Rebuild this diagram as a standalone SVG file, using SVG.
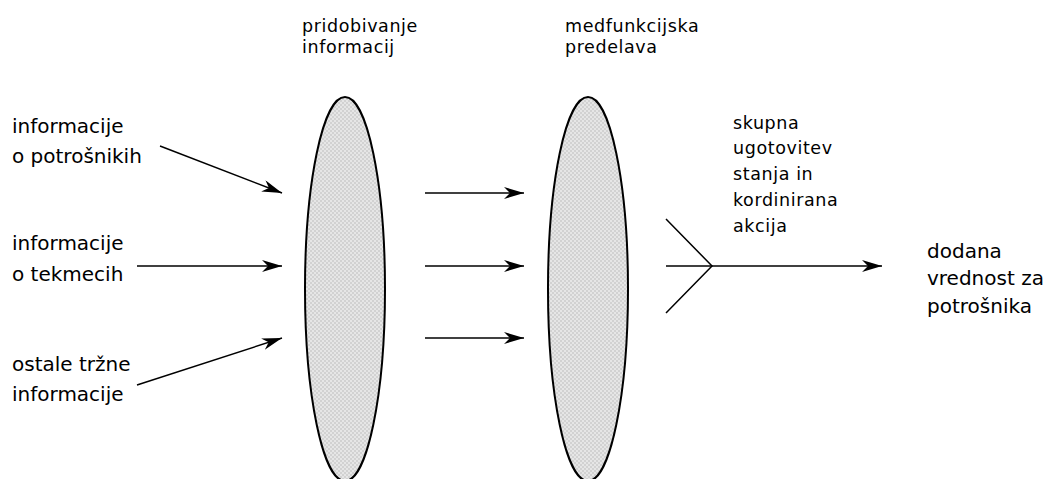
<svg xmlns="http://www.w3.org/2000/svg" width="1051" height="479" viewBox="0 0 1051 479">
<defs>
<pattern id="dots" width="4" height="4" patternUnits="userSpaceOnUse">
<rect width="4" height="4" fill="#e6e6e6"/>
<rect width="2" height="2" fill="#d2d2d2"/>
<rect x="2" y="2" width="2" height="2" fill="#d2d2d2"/>
</pattern>
<marker id="ah" viewBox="0 0 20 12" refX="20" refY="6" markerWidth="20" markerHeight="12" markerUnits="userSpaceOnUse" orient="auto">
<path d="M0,0 L20,6 L0,12 L6,6 Z" fill="#000"/>
</marker>
</defs>
<style>
text{font-family:"DejaVu Sans",sans-serif;fill:#000}
.lg{font-size:20px}
.sm{font-size:17.5px;letter-spacing:0.6px}
.ell{fill:url(#dots);stroke:#000;stroke-width:2}
.ln{stroke:#000;stroke-width:1.5;fill:none}
.ar{stroke:#000;stroke-width:1.5;fill:none;marker-end:url(#ah)}
</style>
<rect width="1051" height="479" fill="#fff"/>
<g id="lens1"><ellipse class="ell" cx="345" cy="289" rx="40" ry="192"/></g>
<g id="lens2"><ellipse class="ell" cx="588" cy="289" rx="40" ry="192"/></g>
<g id="label-pridobivanje"><text class="sm" x="302" y="32">pridobivanje</text><text class="sm" x="302" y="53">informacij</text></g>
<g id="label-medfunkcijska"><text class="sm" x="565" y="32">medfunkcijska</text><text class="sm" x="565" y="53">predelava</text></g>
<g id="in1"><text class="lg" x="12" y="133">informacije</text><text class="lg" x="12" y="163">o potrošnikih</text></g>
<g id="in2"><text class="lg" x="12" y="250">informacije</text><text class="lg" x="12" y="281">o tekmecih</text></g>
<g id="in3"><text class="lg" x="12" y="371">ostale tržne</text><text class="lg" x="12" y="401">informacije</text></g>
<g id="label-skupna"><text class="sm" x="733" y="129">skupna</text><text class="sm" x="733" y="154">ugotovitev</text><text class="sm" x="733" y="180">stanja in</text><text class="sm" x="733" y="206">kordinirana</text><text class="sm" x="733" y="232">akcija</text></g>
<g id="out"><text class="lg" x="927" y="258">dodana</text><text class="lg" x="927" y="285">vrednost za</text><text class="lg" x="927" y="313">potrošnika</text></g>
<g id="connectors">
<line class="ar" x1="160" y1="146" x2="282" y2="193"/>
<line class="ar" x1="137" y1="266" x2="282" y2="266"/>
<line class="ar" x1="137" y1="385" x2="282" y2="338"/>
<line class="ar" x1="425" y1="193" x2="524" y2="193"/>
<line class="ar" x1="425" y1="266" x2="524" y2="266"/>
<line class="ar" x1="425" y1="338" x2="524" y2="338"/>
<polyline class="ln" points="666,219 712,266 666,313"/>
<line class="ln" x1="666" y1="266" x2="712" y2="266"/>
<line class="ar" x1="712" y1="266" x2="882" y2="266"/>
</g>
</svg>
